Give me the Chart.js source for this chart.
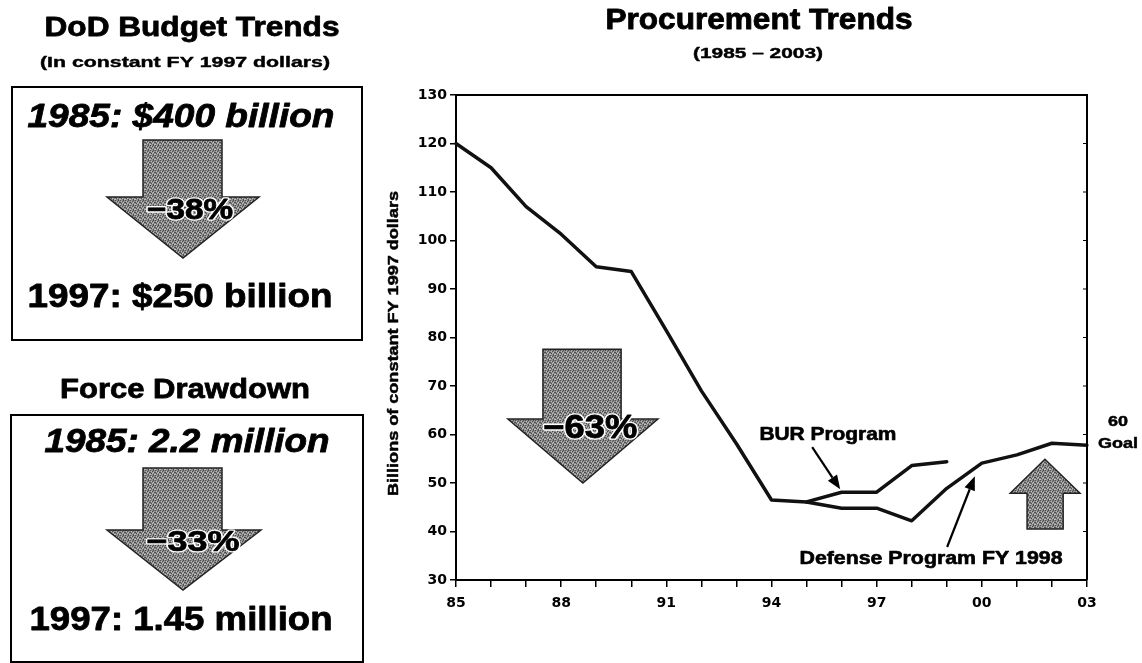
<!DOCTYPE html>
<html>
<head>
<meta charset="utf-8">
<script src="https://cdn.jsdelivr.net/npm/chart.js@4.4.1/dist/chart.umd.min.js"></script>
<style>
  html, body { margin: 0; padding: 0; background: #fff; }
  #wrap { width: 1142px; height: 663px; }
</style>
</head>
<body>
<div id="wrap"><canvas id="c" width="1142" height="663"></canvas></div>
<script>
// ---- data ----
const years = ['85','86','87','88','89','90','91','92','93','94','95','96','97','98','99','00','01','02','03'];
const defenseProgramFY1998 = [120, 115, 107, 101.3, 94.6, 93.6, 81.4, 69, 58.1, 46.5, 46.1, 44.8, 44.8, 42.2, 48.9, 54.1, 55.8, 58.2, 57.8];
const burProgram = [null, null, null, null, null, null, null, null, null, null, 46.1, 48.1, 48.1, 53.6, 54.4, null, null, null, null];
const yMin = 30, yMax = 130, yStep = 10;
const xLabelEvery = 3;
const goalValue = 60;

// ---- helpers ----
const FONT = '"Liberation Sans", Arial, sans-serif';
function stretchText(ctx, s, cx, cy, font, width, opts) {
  opts = opts || {};
  ctx.save();
  ctx.font = font;
  const m = ctx.measureText(s).width;
  const sx = width ? width / m : 1;
  ctx.translate(cx, cy);
  if (opts.rotate) ctx.rotate(opts.rotate);
  ctx.scale(sx, 1);
  ctx.textAlign = 'center';
  ctx.textBaseline = 'middle';
  ctx.lineJoin = 'round';
  if (opts.halo) {
    ctx.strokeStyle = '#fff';
    ctx.lineWidth = opts.halo / sx;
    ctx.strokeText(s, 0, 0);
  }
  ctx.fillStyle = opts.color || '#000';
  ctx.fillText(s, 0, 0);
  const heavy = opts.heavy === undefined ? 0.9 : opts.heavy;
  if (heavy > 0) {
    ctx.strokeStyle = opts.color || '#000';
    ctx.lineWidth = heavy / sx;
    ctx.strokeText(s, 0, 0);
  }
  ctx.restore();
}

let grayPattern = null;
function getPattern(ctx) {
  if (grayPattern) return grayPattern;
  const pc = document.createElement('canvas');
  pc.width = 5; pc.height = 5;
  const p = pc.getContext('2d');
  p.fillStyle = '#8c8c8c';
  p.fillRect(0, 0, 5, 5);
  const dark = [[0,0],[2,1],[4,2],[1,3],[3,4],[3,0],[0,2]];
  const light = [[1,1],[3,2],[0,4],[4,4],[2,3]];
  p.fillStyle = '#4e4e4e';
  dark.forEach(d => p.fillRect(d[0], d[1], 1, 1));
  p.fillStyle = '#bdbdbd';
  light.forEach(d => p.fillRect(d[0], d[1], 1, 1));
  grayPattern = ctx.createPattern(pc, 'repeat');
  return grayPattern;
}

// block arrow: shaft sx0..sx1, shaft end at sy, head base at hy, head hx0..hx1, tip (tx,ty)
function blockArrow(ctx, sx0, sx1, sy, hy, hx0, hx1, tx, ty) {
  ctx.save();
  ctx.beginPath();
  ctx.moveTo(sx0, sy);
  ctx.lineTo(sx1, sy);
  ctx.lineTo(sx1, hy);
  ctx.lineTo(hx1, hy);
  ctx.lineTo(tx, ty);
  ctx.lineTo(hx0, hy);
  ctx.lineTo(sx0, hy);
  ctx.closePath();
  ctx.fillStyle = getPattern(ctx);
  ctx.fill();
  ctx.strokeStyle = '#222';
  ctx.lineWidth = 1.5;
  ctx.lineJoin = 'miter';
  ctx.stroke();
  ctx.restore();
}

function lineArrow(ctx, x0, y0, x1, y1) {
  ctx.save();
  ctx.strokeStyle = '#000';
  ctx.fillStyle = '#000';
  ctx.lineWidth = 2.2;
  const ang = Math.atan2(y1 - y0, x1 - x0);
  const L = 14, W = 5.5;
  const bx = x1 - L * Math.cos(ang), by = y1 - L * Math.sin(ang);
  ctx.beginPath();
  ctx.moveTo(x0, y0);
  ctx.lineTo(bx, by);
  ctx.stroke();
  ctx.beginPath();
  ctx.moveTo(x1, y1);
  ctx.lineTo(bx + W * Math.sin(ang), by - W * Math.cos(ang));
  ctx.lineTo(bx - W * Math.sin(ang), by + W * Math.cos(ang));
  ctx.closePath();
  ctx.fill();
  ctx.restore();
}

const decor = {
  id: 'decor',
  beforeDraw(chart) {
    const ctx = chart.ctx;
    ctx.save();
    ctx.fillStyle = '#fff';
    ctx.fillRect(0, 0, chart.width, chart.height);
    ctx.restore();
  },
  afterDraw(chart) {
    const ctx = chart.ctx;
    const xs = chart.scales.x, ys = chart.scales.y;
    const ca = chart.chartArea;
    const px = i => xs.getPixelForValue(i);
    const py = v => ys.getPixelForValue(v);

    // ---- left panel ----
    stretchText(ctx, 'DoD Budget Trends', 192, 29, 'bold 27px ' + FONT, 295);
    stretchText(ctx, '(In constant FY 1997 dollars)', 185, 63, 'bold 15px ' + FONT, 290, {heavy: 0.6});
    ctx.save();
    ctx.strokeStyle = '#000';
    ctx.lineWidth = 2;
    ctx.strokeRect(12, 87, 350, 253);
    ctx.strokeRect(11, 415, 352, 247);
    ctx.restore();
    stretchText(ctx, '1985: $400 billion', 181, 118, 'italic bold 33px ' + FONT, 307);
    blockArrow(ctx, 143, 222, 140, 197, 107, 259, 183, 258);
    stretchText(ctx, '\u221238%', 190, 211, 'bold 29px ' + FONT, 86, {halo: 4});
    stretchText(ctx, '1997: $250 billion', 180, 298, 'bold 33px ' + FONT, 305);

    stretchText(ctx, 'Force Drawdown', 185, 391, 'bold 27px ' + FONT, 250);
    stretchText(ctx, '1985: 2.2 million', 187, 443, 'italic bold 33px ' + FONT, 285);
    blockArrow(ctx, 143, 222, 468, 530, 107, 261, 183, 590);
    stretchText(ctx, '\u221233%', 193, 543, 'bold 29px ' + FONT, 93, {halo: 4});
    stretchText(ctx, '1997: 1.45 million', 181, 621, 'bold 33px ' + FONT, 303);

    // ---- chart titles ----
    stretchText(ctx, 'Procurement Trends', 759, 21, 'bold 29px ' + FONT, 307);
    stretchText(ctx, '(1985 \u2013 2003)', 758, 54, 'bold 14px ' + FONT, 130, {heavy: 0.6});
    stretchText(ctx, 'Billions of constant FY 1997 dollars', 394, (ca.top + ca.bottom) / 2 + 6,
      'bold 15px ' + FONT, 305, {rotate: -Math.PI / 2, heavy: 0.6});

    // frame top / right
    ctx.save();
    ctx.strokeStyle = '#000';
    ctx.lineWidth = 2;
    ctx.beginPath();
    ctx.moveTo(ca.left, ca.top);
    ctx.lineTo(ca.right, ca.top);
    ctx.lineTo(ca.right, ca.bottom);
    ctx.stroke();
    ctx.lineWidth = 1;
    ys.ticks.forEach(t => {
      const y = py(t.value);
      ctx.beginPath();
      ctx.moveTo(ca.right - 4, y);
      ctx.lineTo(ca.right, y);
      ctx.stroke();
    });
    ctx.restore();

    // -63% arrow
    blockArrow(ctx, px(2.48), px(4.71), py(77.6), py(63.2), px(1.48), px(5.76), px(3.62), py(50));
    stretchText(ctx, '\u221263%', px(3.83), py(61.2), 'bold 33px ' + FONT, 94, {halo: 4});

    // up arrow near goal
    blockArrow(ctx, px(16.29), px(17.32), py(40.5), py(47.9), px(15.81), px(17.8), px(16.8), py(54.9));

    // BUR annotation
    stretchText(ctx, 'BUR Program', px(10.61), py(59.9), 'bold 19px ' + FONT, 137, {heavy: 0.7});
    lineArrow(ctx, px(10.16), py(57.4), px(10.96), py(48.7));
    // Defense annotation
    stretchText(ctx, 'Defense Program FY 1998', px(13.55), py(34.3), 'bold 19px ' + FONT, 263, {heavy: 0.7});
    lineArrow(ctx, px(14.01), py(36.8), px(14.8), py(51.4));

    // goal label
    stretchText(ctx, String(goalValue), ca.right + 31, py(goalValue) - 12, 'bold 14px ' + FONT, 20, {heavy: 0.6});
    stretchText(ctx, 'Goal', ca.right + 31, py(goalValue) + 10, 'bold 14px ' + FONT, 40, {heavy: 0.6});
  }
};

const tickFont = { family: '"DejaVu Sans", sans-serif', size: 14, weight: 'bold' };

new Chart(document.getElementById('c'), {
  type: 'line',
  data: {
    labels: years,
    datasets: [
      { label: 'Defense Program FY 1998', data: defenseProgramFY1998, borderColor: '#111', borderWidth: 3.5,
        pointRadius: 0, tension: 0, fill: false, borderJoinStyle: 'round', borderCapStyle: 'round' },
      { label: 'BUR Program', data: burProgram, borderColor: '#111', borderWidth: 3.5,
        pointRadius: 0, tension: 0, fill: false, spanGaps: false, borderJoinStyle: 'round', borderCapStyle: 'round' }
    ]
  },
  options: {
    responsive: false,
    animation: false,
    events: [],
    layout: { padding: { left: 380, right: 55, top: 95, bottom: 43 } },
    plugins: { legend: { display: false }, title: { display: false }, tooltip: { enabled: false } },
    scales: {
      x: {
        type: 'category',
        offset: false,
        afterFit(s) { s.height = 40; },
        border: { display: true, color: '#000', width: 2 },
        grid: { drawOnChartArea: false, drawTicks: true, tickLength: 7, color: '#000', lineWidth: 1.5 },
        ticks: {
          autoSkip: false, maxRotation: 0, minRotation: 0, color: '#000', font: tickFont, padding: 8,
          callback: (v, i) => (i % xLabelEvery === 0 ? years[i] : '')
        }
      },
      y: {
        min: yMin, max: yMax,
        afterFit(s) { s.width = 76; },
        border: { display: true, color: '#000', width: 2 },
        grid: { drawOnChartArea: false, drawTicks: true, tickLength: 6, color: '#000', lineWidth: 1.5 },
        ticks: { stepSize: yStep, color: '#000', font: tickFont, padding: 3 }
      }
    }
  },
  plugins: [decor]
});
</script>
</body>
</html>
